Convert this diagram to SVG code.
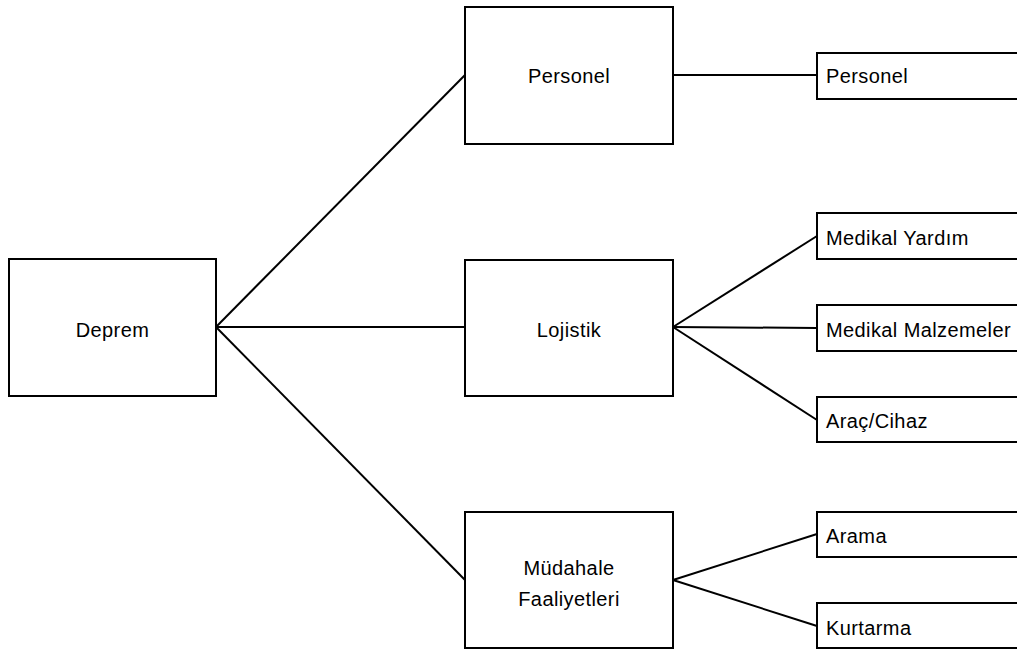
<svg xmlns="http://www.w3.org/2000/svg" width="1017" height="653" viewBox="0 0 1017 653">
<style>
.box{fill:#fff;stroke:#000;stroke-width:2}
.ln{stroke:#000;stroke-width:2;fill:none}
text{font-family:"Liberation Sans",Arial,sans-serif;font-size:20px;fill:#000;letter-spacing:0.4px}
.c{text-anchor:middle}
</style>
<rect width="1017" height="653" fill="#fff"/>
<g id="connectors">
<line class="ln" x1="216" y1="327" x2="465" y2="75"/>
<line class="ln" x1="216" y1="327" x2="465" y2="327"/>
<line class="ln" x1="216" y1="327" x2="465" y2="580"/>
<line class="ln" x1="673" y1="75" x2="817" y2="75"/>
<line class="ln" x1="673" y1="327" x2="817" y2="236"/>
<line class="ln" x1="673" y1="327" x2="817" y2="328"/>
<line class="ln" x1="673" y1="327" x2="817" y2="420"/>
<line class="ln" x1="673" y1="580" x2="817" y2="534"/>
<line class="ln" x1="673" y1="580" x2="817" y2="626"/>
</g>
<g id="deprem"><rect class="box" x="9" y="259" width="207" height="137"/><text class="c" x="112.5" y="337">Deprem</text></g>
<g id="personel"><rect class="box" x="465" y="7" width="208" height="137"/><text class="c" x="569" y="83">Personel</text></g>
<g id="lojistik"><rect class="box" x="465" y="260" width="208" height="136"/><text class="c" x="569" y="337">Lojistik</text></g>
<g id="mudahale"><rect class="box" x="465" y="512" width="208" height="136"/><text class="c" x="569" y="575">Müdahale</text><text class="c" x="569" y="606">Faaliyetleri</text></g>
<g id="personel2"><rect class="box" x="817" y="53" width="260" height="46"/><text x="826" y="83">Personel</text></g>
<g id="medikal-yardim"><rect class="box" x="817" y="213" width="260" height="46"/><text x="826" y="245">Medikal Yardım</text></g>
<g id="medikal-malzemeler"><rect class="box" x="817" y="305" width="260" height="46"/><text x="826" y="337">Medikal Malzemeler</text></g>
<g id="arac-cihaz"><rect class="box" x="817" y="397" width="260" height="45"/><text x="826" y="428">Araç/Cihaz</text></g>
<g id="arama"><rect class="box" x="817" y="512" width="260" height="45"/><text x="826" y="543">Arama</text></g>
<g id="kurtarma"><rect class="box" x="817" y="603" width="260" height="45"/><text x="826" y="635">Kurtarma</text></g>
</svg>
